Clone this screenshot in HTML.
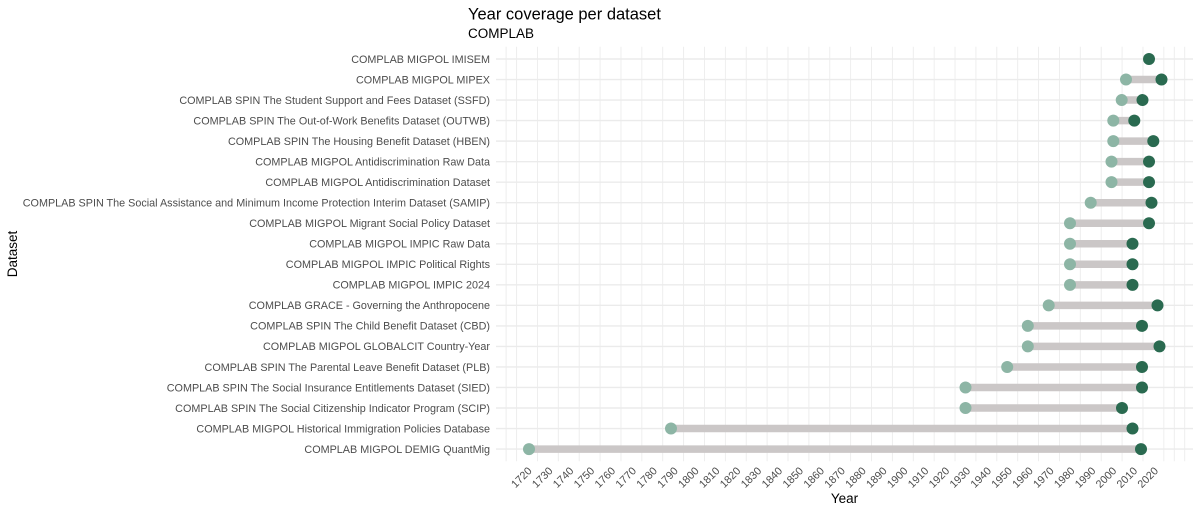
<!DOCTYPE html>
<html><head><meta charset="utf-8"><style>
html,body{margin:0;padding:0;background:#fff;}
svg{display:block;}
text{font-family:"Liberation Sans",Arial,sans-serif;}
.yl{font-size:10.8px;fill:#4d4d4d;text-anchor:end;}
.xl{font-size:10.8px;fill:#4d4d4d;text-anchor:end;}
</style></head><body>
<svg width="1200" height="514" viewBox="0 0 1200 514" xmlns="http://www.w3.org/2000/svg">
<rect width="1200" height="514" fill="#fff"/>
<!-- vertical minor grid -->
<g stroke="#ececec" stroke-width="0.9">
<line x1="506.1" y1="46.7" x2="506.1" y2="461.3"/>
<line x1="516.6" y1="46.7" x2="516.6" y2="461.3"/>
<line x1="537.44" y1="46.7" x2="537.44" y2="461.3"/>
<line x1="558.32" y1="46.7" x2="558.32" y2="461.3"/>
<line x1="579.2" y1="46.7" x2="579.2" y2="461.3"/>
<line x1="600.08" y1="46.7" x2="600.08" y2="461.3"/>
<line x1="620.96" y1="46.7" x2="620.96" y2="461.3"/>
<line x1="641.84" y1="46.7" x2="641.84" y2="461.3"/>
<line x1="662.72" y1="46.7" x2="662.72" y2="461.3"/>
<line x1="683.6" y1="46.7" x2="683.6" y2="461.3"/>
<line x1="704.48" y1="46.7" x2="704.48" y2="461.3"/>
<line x1="725.36" y1="46.7" x2="725.36" y2="461.3"/>
<line x1="746.24" y1="46.7" x2="746.24" y2="461.3"/>
<line x1="767.12" y1="46.7" x2="767.12" y2="461.3"/>
<line x1="788" y1="46.7" x2="788" y2="461.3"/>
<line x1="808.88" y1="46.7" x2="808.88" y2="461.3"/>
<line x1="829.76" y1="46.7" x2="829.76" y2="461.3"/>
<line x1="850.64" y1="46.7" x2="850.64" y2="461.3"/>
<line x1="871.52" y1="46.7" x2="871.52" y2="461.3"/>
<line x1="892.4" y1="46.7" x2="892.4" y2="461.3"/>
<line x1="913.28" y1="46.7" x2="913.28" y2="461.3"/>
<line x1="934.16" y1="46.7" x2="934.16" y2="461.3"/>
<line x1="955.04" y1="46.7" x2="955.04" y2="461.3"/>
<line x1="975.92" y1="46.7" x2="975.92" y2="461.3"/>
<line x1="996.8" y1="46.7" x2="996.8" y2="461.3"/>
<line x1="1017.68" y1="46.7" x2="1017.68" y2="461.3"/>
<line x1="1038.56" y1="46.7" x2="1038.56" y2="461.3"/>
<line x1="1059.44" y1="46.7" x2="1059.44" y2="461.3"/>
<line x1="1080.32" y1="46.7" x2="1080.32" y2="461.3"/>
<line x1="1101.2" y1="46.7" x2="1101.2" y2="461.3"/>
<line x1="1122.08" y1="46.7" x2="1122.08" y2="461.3"/>
<line x1="1142.96" y1="46.7" x2="1142.96" y2="461.3"/>
<line x1="1163.84" y1="46.7" x2="1163.84" y2="461.3"/>
<line x1="1174.28" y1="46.7" x2="1174.28" y2="461.3"/>
<line x1="1184.72" y1="46.7" x2="1184.72" y2="461.3"/>
</g>
<!-- horizontal major grid -->
<g stroke="#ebebeb" stroke-width="1.4">
<line x1="496" y1="59" x2="1193" y2="59"/>
<line x1="496" y1="79.53" x2="1193" y2="79.53"/>
<line x1="496" y1="100.06" x2="1193" y2="100.06"/>
<line x1="496" y1="120.59" x2="1193" y2="120.59"/>
<line x1="496" y1="141.12" x2="1193" y2="141.12"/>
<line x1="496" y1="161.65" x2="1193" y2="161.65"/>
<line x1="496" y1="182.18" x2="1193" y2="182.18"/>
<line x1="496" y1="202.71" x2="1193" y2="202.71"/>
<line x1="496" y1="223.24" x2="1193" y2="223.24"/>
<line x1="496" y1="243.77" x2="1193" y2="243.77"/>
<line x1="496" y1="264.3" x2="1193" y2="264.3"/>
<line x1="496" y1="284.83" x2="1193" y2="284.83"/>
<line x1="496" y1="305.36" x2="1193" y2="305.36"/>
<line x1="496" y1="325.89" x2="1193" y2="325.89"/>
<line x1="496" y1="346.42" x2="1193" y2="346.42"/>
<line x1="496" y1="366.95" x2="1193" y2="366.95"/>
<line x1="496" y1="387.48" x2="1193" y2="387.48"/>
<line x1="496" y1="408.01" x2="1193" y2="408.01"/>
<line x1="496" y1="428.54" x2="1193" y2="428.54"/>
<line x1="496" y1="449.07" x2="1193" y2="449.07"/>
</g>
<!-- segments -->
<g stroke="#cbc7c7" stroke-width="7.5" stroke-linecap="butt">
<line x1="1126" y1="79.53" x2="1161.5" y2="79.53"/>
<line x1="1121.7" y1="100.06" x2="1142.5" y2="100.06"/>
<line x1="1113.3" y1="120.59" x2="1134.3" y2="120.59"/>
<line x1="1113.3" y1="141.12" x2="1153.3" y2="141.12"/>
<line x1="1111.5" y1="161.65" x2="1149" y2="161.65"/>
<line x1="1111.5" y1="182.18" x2="1149" y2="182.18"/>
<line x1="1090.7" y1="202.71" x2="1151.5" y2="202.71"/>
<line x1="1070" y1="223.24" x2="1149" y2="223.24"/>
<line x1="1070" y1="243.77" x2="1132.5" y2="243.77"/>
<line x1="1070" y1="264.3" x2="1132.5" y2="264.3"/>
<line x1="1070" y1="284.83" x2="1132.5" y2="284.83"/>
<line x1="1048.7" y1="305.36" x2="1157.5" y2="305.36"/>
<line x1="1027.8" y1="325.89" x2="1142" y2="325.89"/>
<line x1="1027.8" y1="346.42" x2="1159.5" y2="346.42"/>
<line x1="1007.2" y1="366.95" x2="1142" y2="366.95"/>
<line x1="965.5" y1="387.48" x2="1142" y2="387.48"/>
<line x1="965.5" y1="408.01" x2="1122" y2="408.01"/>
<line x1="671" y1="428.54" x2="1132.5" y2="428.54"/>
<line x1="529" y1="449.07" x2="1141" y2="449.07"/>
</g>
<!-- start dots -->
<g fill="#8db5a5">
<circle cx="1126" cy="79.53" r="6"/>
<circle cx="1121.7" cy="100.06" r="6"/>
<circle cx="1113.3" cy="120.59" r="6"/>
<circle cx="1113.3" cy="141.12" r="6"/>
<circle cx="1111.5" cy="161.65" r="6"/>
<circle cx="1111.5" cy="182.18" r="6"/>
<circle cx="1090.7" cy="202.71" r="6"/>
<circle cx="1070" cy="223.24" r="6"/>
<circle cx="1070" cy="243.77" r="6"/>
<circle cx="1070" cy="264.3" r="6"/>
<circle cx="1070" cy="284.83" r="6"/>
<circle cx="1048.7" cy="305.36" r="6"/>
<circle cx="1027.8" cy="325.89" r="6"/>
<circle cx="1027.8" cy="346.42" r="6"/>
<circle cx="1007.2" cy="366.95" r="6"/>
<circle cx="965.5" cy="387.48" r="6"/>
<circle cx="965.5" cy="408.01" r="6"/>
<circle cx="671" cy="428.54" r="6"/>
<circle cx="529" cy="449.07" r="6"/>
</g>
<!-- end dots -->
<g fill="#2a6a50">
<circle cx="1149" cy="59" r="6"/>
<circle cx="1161.5" cy="79.53" r="6"/>
<circle cx="1142.5" cy="100.06" r="6"/>
<circle cx="1134.3" cy="120.59" r="6"/>
<circle cx="1153.3" cy="141.12" r="6"/>
<circle cx="1149" cy="161.65" r="6"/>
<circle cx="1149" cy="182.18" r="6"/>
<circle cx="1151.5" cy="202.71" r="6"/>
<circle cx="1149" cy="223.24" r="6"/>
<circle cx="1132.5" cy="243.77" r="6"/>
<circle cx="1132.5" cy="264.3" r="6"/>
<circle cx="1132.5" cy="284.83" r="6"/>
<circle cx="1157.5" cy="305.36" r="6"/>
<circle cx="1142" cy="325.89" r="6"/>
<circle cx="1159.5" cy="346.42" r="6"/>
<circle cx="1142" cy="366.95" r="6"/>
<circle cx="1142" cy="387.48" r="6"/>
<circle cx="1122" cy="408.01" r="6"/>
<circle cx="1132.5" cy="428.54" r="6"/>
<circle cx="1141" cy="449.07" r="6"/>
</g>
<!-- y labels -->
<g class="yl">
<text x="490" y="62.8">COMPLAB MIGPOL IMISEM</text>
<text x="490" y="83.3">COMPLAB MIGPOL MIPEX</text>
<text x="490" y="103.9">COMPLAB SPIN The Student Support and Fees Dataset (SSFD)</text>
<text x="490" y="124.4">COMPLAB SPIN The Out-of-Work Benefits Dataset (OUTWB)</text>
<text x="490" y="144.9">COMPLAB SPIN The Housing Benefit Dataset (HBEN)</text>
<text x="490" y="165.4">COMPLAB MIGPOL Antidiscrimination Raw Data</text>
<text x="490" y="186">COMPLAB MIGPOL Antidiscrimination Dataset</text>
<text x="490" y="206.5">COMPLAB SPIN The Social Assistance and Minimum Income Protection Interim Dataset (SAMIP)</text>
<text x="490" y="227">COMPLAB MIGPOL Migrant Social Policy Dataset</text>
<text x="490" y="247.6">COMPLAB MIGPOL IMPIC Raw Data</text>
<text x="490" y="268.1">COMPLAB MIGPOL IMPIC Political Rights</text>
<text x="490" y="288.6">COMPLAB MIGPOL IMPIC 2024</text>
<text x="490" y="309.2">COMPLAB GRACE - Governing the Anthropocene</text>
<text x="490" y="329.7">COMPLAB SPIN The Child Benefit Dataset (CBD)</text>
<text x="490" y="350.2">COMPLAB MIGPOL GLOBALCIT Country-Year</text>
<text x="490" y="370.8">COMPLAB SPIN The Parental Leave Benefit Dataset (PLB)</text>
<text x="490" y="391.3">COMPLAB SPIN The Social Insurance Entitlements Dataset (SIED)</text>
<text x="490" y="411.8">COMPLAB SPIN The Social Citizenship Indicator Program (SCIP)</text>
<text x="490" y="432.3">COMPLAB MIGPOL Historical Immigration Policies Database</text>
<text x="490" y="452.9">COMPLAB MIGPOL DEMIG QuantMig</text>
</g>
<!-- x tick labels -->
<g class="xl">
<text transform="translate(527,466) rotate(-45)" dy="0.72em">1720</text>
<text transform="translate(547.88,466) rotate(-45)" dy="0.72em">1730</text>
<text transform="translate(568.76,466) rotate(-45)" dy="0.72em">1740</text>
<text transform="translate(589.64,466) rotate(-45)" dy="0.72em">1750</text>
<text transform="translate(610.52,466) rotate(-45)" dy="0.72em">1760</text>
<text transform="translate(631.4,466) rotate(-45)" dy="0.72em">1770</text>
<text transform="translate(652.28,466) rotate(-45)" dy="0.72em">1780</text>
<text transform="translate(673.16,466) rotate(-45)" dy="0.72em">1790</text>
<text transform="translate(694.04,466) rotate(-45)" dy="0.72em">1800</text>
<text transform="translate(714.92,466) rotate(-45)" dy="0.72em">1810</text>
<text transform="translate(735.8,466) rotate(-45)" dy="0.72em">1820</text>
<text transform="translate(756.68,466) rotate(-45)" dy="0.72em">1830</text>
<text transform="translate(777.56,466) rotate(-45)" dy="0.72em">1840</text>
<text transform="translate(798.44,466) rotate(-45)" dy="0.72em">1850</text>
<text transform="translate(819.32,466) rotate(-45)" dy="0.72em">1860</text>
<text transform="translate(840.2,466) rotate(-45)" dy="0.72em">1870</text>
<text transform="translate(861.08,466) rotate(-45)" dy="0.72em">1880</text>
<text transform="translate(881.96,466) rotate(-45)" dy="0.72em">1890</text>
<text transform="translate(902.84,466) rotate(-45)" dy="0.72em">1900</text>
<text transform="translate(923.72,466) rotate(-45)" dy="0.72em">1910</text>
<text transform="translate(944.6,466) rotate(-45)" dy="0.72em">1920</text>
<text transform="translate(965.48,466) rotate(-45)" dy="0.72em">1930</text>
<text transform="translate(986.36,466) rotate(-45)" dy="0.72em">1940</text>
<text transform="translate(1007.24,466) rotate(-45)" dy="0.72em">1950</text>
<text transform="translate(1028.12,466) rotate(-45)" dy="0.72em">1960</text>
<text transform="translate(1049,466) rotate(-45)" dy="0.72em">1970</text>
<text transform="translate(1069.88,466) rotate(-45)" dy="0.72em">1980</text>
<text transform="translate(1090.76,466) rotate(-45)" dy="0.72em">1990</text>
<text transform="translate(1111.64,466) rotate(-45)" dy="0.72em">2000</text>
<text transform="translate(1132.52,466) rotate(-45)" dy="0.72em">2010</text>
<text transform="translate(1153.4,466) rotate(-45)" dy="0.72em">2020</text>
</g>
<!-- titles -->
<text x="468" y="19.5" font-size="16.5" fill="#000">Year coverage per dataset</text>
<text x="468" y="38" font-size="13.5" fill="#000">COMPLAB</text>
<text x="844.5" y="503" font-size="13.5" fill="#000" text-anchor="middle">Year</text>
<text transform="translate(17,254) rotate(-90)" font-size="13.5" fill="#000" text-anchor="middle">Dataset</text>
</svg>
</body></html>
